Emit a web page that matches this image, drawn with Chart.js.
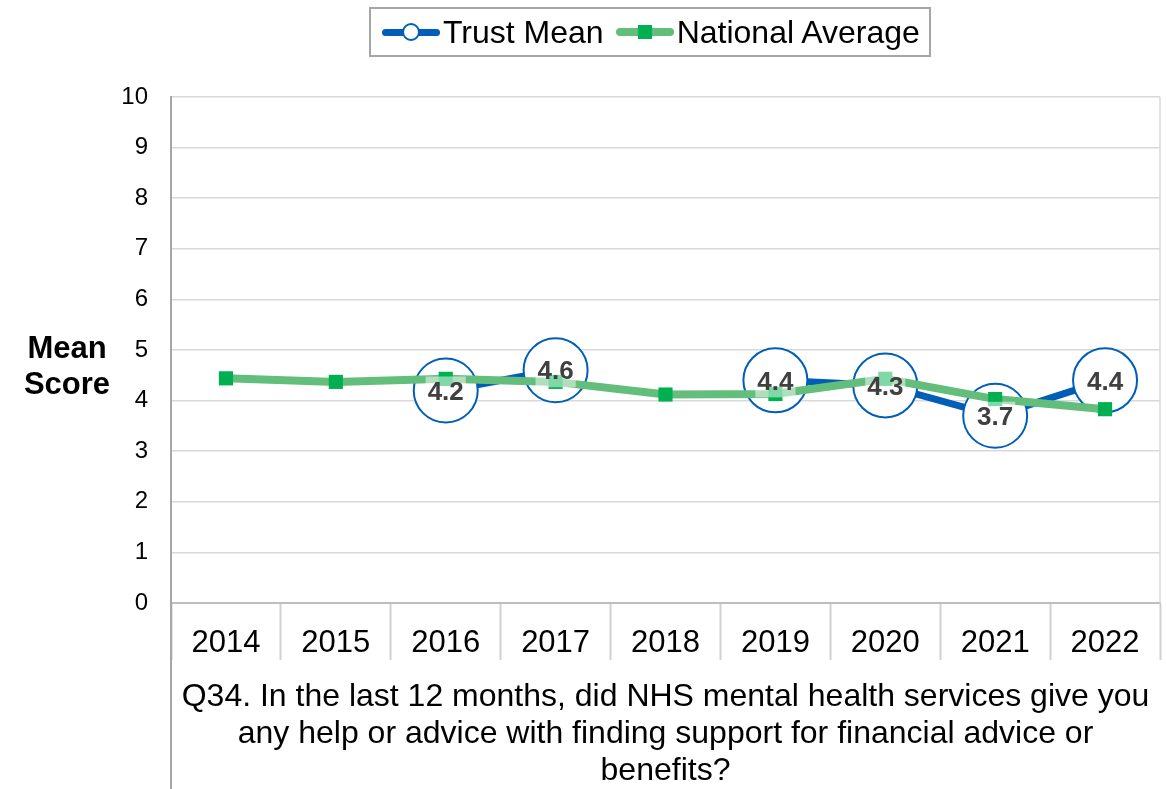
<!DOCTYPE html>
<html lang="en">
  <head>
    <meta charset="utf-8" />
    <title>Q34 Mean Score</title>
    <style>
      body {
        margin: 0;
        background: #fff;
        font-family: 'Liberation Sans', Arial, sans-serif;
      }
      #wrap {
        position: relative;
        width: 1166px;
        height: 789px;
      }
      #legend {
        position: absolute;
        left: 369px;
        top: 7px;
        width: 558px;
        height: 46px;
        border: 2px solid #a6a6a6;
        display: flex;
        align-items: center;
        font-size: 32px;
        color: #000;
        white-space: nowrap;
      }
      .swatch {
        position: relative;
        width: 58px;
        border-radius: 4px;
      }
      .swatch i {
        position: absolute;
        left: 50%;
        top: 50%;
        transform: translate(-50%, -50%);
      }
      .trust {
        height: 7px;
        background: #005eb8;
        margin-left: 11px;
      }
      .trust i {
        width: 14px;
        height: 14px;
        border: 2px solid #005eb8;
        border-radius: 50%;
        background: #fff;
      }
      .national {
        height: 8px;
        background: #63be7b;
        margin-left: 12px;
      }
      .national i {
        width: 14px;
        height: 14px;
        background: #00b050;
      }
      .label {
        margin-left: 3px;
      }
    </style>
  </head>
  <body>
    <div id="wrap">
      <canvas id="myChart" width="1166" height="789"></canvas>
      <div id="legend">
        <span class="swatch trust"><i></i></span><span class="label">Trust Mean</span>
        <span class="swatch national"><i></i></span><span class="label">National Average</span>
      </div>
    </div>

    <script src="https://cdn.jsdelivr.net/npm/chart.js"></script>
    <script>
      const years = ['2014', '2015', '2016', '2017', '2018', '2019', '2020', '2021', '2022'];
      const trustMean = [null, null, 4.2, 4.6, null, 4.4, 4.3, 3.7, 4.4];
      const nationalAverage = [4.44, 4.37, 4.43, 4.37, 4.12, 4.13, 4.43, 4.03, 3.83];
      const yMin = 0;
      const yMax = 10;
      const yStep = 1;
      const yTitle = ['Mean', 'Score'];
      const question = [
        'Q34. In the last 12 months, did NHS mental health services give you',
        'any help or advice with finding support for financial advice or',
        'benefits?',
      ];

      const family = "'Liberation Sans', Arial, sans-serif";

      // value labels on the trust circles, with a faint white box behind
      const valueLabels = {
        id: 'valueLabels',
        afterDatasetsDraw(chart) {
          const ctx = chart.ctx;
          const meta = chart.getDatasetMeta(0);
          ctx.save();
          ctx.font = 'bold 26px ' + family;
          ctx.textAlign = 'center';
          ctx.textBaseline = 'middle';
          meta.data.forEach((pt, i) => {
            const v = trustMean[i];
            if (v === null) return;
            const text = v.toFixed(1);
            const w = ctx.measureText(text).width;
            ctx.fillStyle = 'rgba(255,255,255,0.5)';
            ctx.fillRect(pt.x - w / 2 - 2, pt.y - 14, w + 4, 31);
            ctx.fillStyle = '#404040';
            ctx.fillText(text, pt.x, pt.y + 2);
          });
          ctx.restore();
        },
      };

      // plot frame extras, y title and the question text under the years
      const extras = {
        id: 'extras',
        afterDraw(chart) {
          const ctx = chart.ctx;
          const area = chart.chartArea;
          ctx.save();
          ctx.lineWidth = 2;
          ctx.strokeStyle = '#a6a6a6';
          ctx.beginPath();
          ctx.moveTo(area.left, area.bottom);
          ctx.lineTo(area.left, chart.height);
          ctx.stroke();

          ctx.lineWidth = 1.5;
          ctx.strokeStyle = '#d9d9d9';
          ctx.beginPath();
          ctx.moveTo(area.right, area.top);
          ctx.lineTo(area.right, area.bottom);
          ctx.stroke();

          ctx.fillStyle = '#000';
          ctx.textAlign = 'center';
          ctx.textBaseline = 'middle';
          ctx.font = 'bold 31px ' + family;
          yTitle.forEach((t, i) => ctx.fillText(t, 67, 349 + i * 36));

          ctx.font = '32px ' + family;
          const cx = (area.left + area.right) / 2;
          question.forEach((t, i) => ctx.fillText(t, cx, 697 + i * 37));
          ctx.restore();
        },
      };

      const data = {
        labels: years,
        datasets: [
          {
            label: 'Trust Mean',
            data: trustMean,
            order: 2,
            borderColor: '#005eb8',
            borderWidth: 7,
            pointRadius: 32,
            pointBackgroundColor: '#fff',
            pointBorderColor: '#005eb8',
            pointBorderWidth: 2,
            spanGaps: false,
          },
          {
            label: 'National Average',
            data: nationalAverage,
            order: 1,
            borderColor: '#63be7b',
            borderWidth: 8,
            pointStyle: 'rect',
            pointRadius: 10,
            pointBackgroundColor: '#00b050',
            pointBorderColor: '#00b050',
            pointBorderWidth: 0,
          },
        ],
      };

      const config = {
        type: 'line',
        data: data,
        options: {
          responsive: false,
          animation: false,
          events: [],
          layout: {
            autoPadding: false,
            padding: { top: 97, right: 6, left: 0, bottom: 0 },
          },
          plugins: {
            legend: { display: false },
            tooltip: { enabled: false },
          },
          scales: {
            x: {
              offset: true,
              afterFit(scale) {
                scale.height = 186;
                scale.paddingLeft = 0;
                scale.paddingRight = 0;
              },
              grid: {
                offset: true,
                drawOnChartArea: false,
                drawTicks: true,
                tickLength: 57,
                tickColor: '#d0d0d0',
                tickWidth: 2,
              },
              border: { display: true, color: '#bfbfbf', width: 2 },
              ticks: {
                font: { size: 31, family: family },
                color: '#000',
                padding: -35,
                maxRotation: 0,
                autoSkip: false,
              },
            },
            y: {
              min: yMin,
              max: yMax,
              afterFit(scale) {
                scale.width = 171;
              },
              grid: { color: '#d9d9d9', lineWidth: 1.5, drawTicks: false },
              border: { color: '#a6a6a6', width: 2 },
              ticks: {
                stepSize: yStep,
                font: { size: 24, family: family },
                color: '#000',
                padding: 23,
              },
            },
          },
        },
        plugins: [valueLabels, extras],
      };

      var myChart = new Chart(document.getElementById('myChart'), config);
    </script>
  </body>
</html>
